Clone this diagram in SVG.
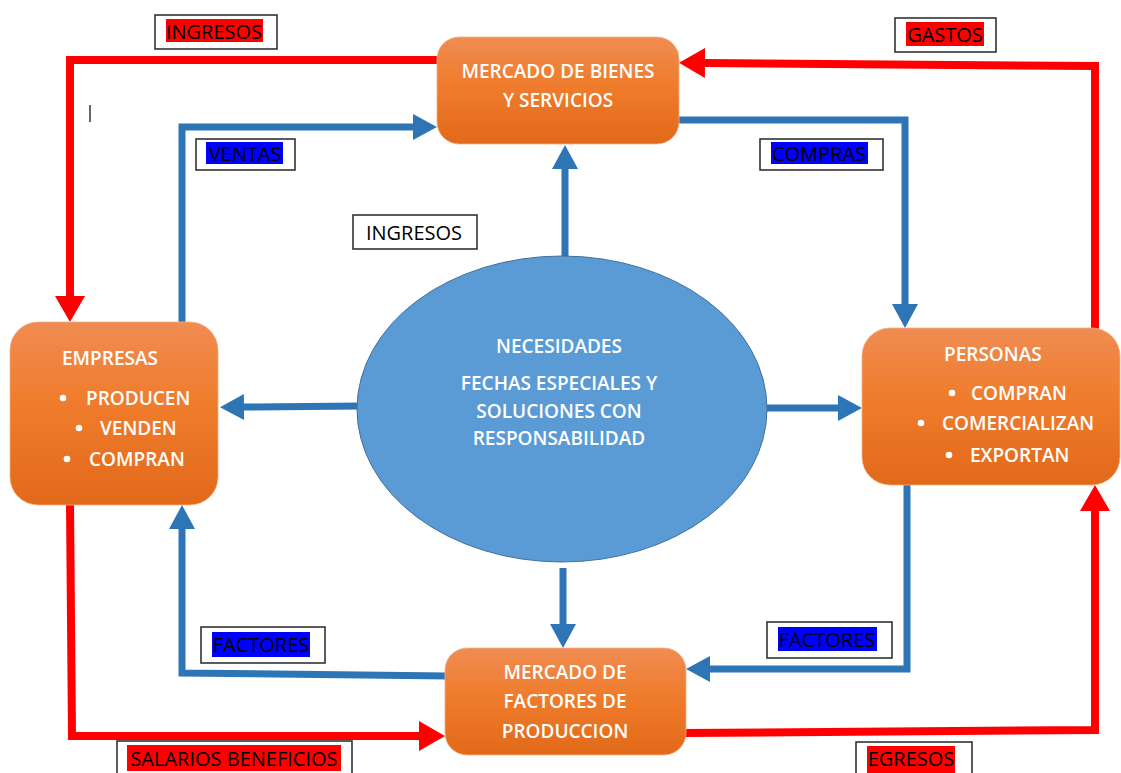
<svg xmlns="http://www.w3.org/2000/svg" width="1121" height="773" viewBox="0 0 1121 773">
<style>
.box{stroke:#F4B183;stroke-width:0.8}
.nt{font-family:"Open Sans","Liberation Sans",sans-serif;font-size:19px;font-weight:600;fill:#ffffff;text-anchor:middle}
.bl{font-family:"Open Sans","Liberation Sans",sans-serif;font-size:19px;font-weight:600;fill:#ffffff}
.lt{font-family:"Open Sans","Liberation Sans",sans-serif;font-size:20px;fill:#000000;text-anchor:middle}
.lb{fill:#ffffff;stroke:#333333;stroke-width:1.6}
.hr{fill:#FF0000}
.hb{fill:#0000FF}
.cb{fill:none;stroke:#2E75B6;stroke-width:7;stroke-linejoin:miter;marker-end:url(#ab)}
.cr{fill:none;stroke:#FF0000;stroke-width:8;stroke-linejoin:miter;marker-end:url(#ar)}
</style>
<defs>
<linearGradient id="og" x1="0" y1="0" x2="0" y2="1">
<stop offset="0" stop-color="#F08C52"/>
<stop offset="0.45" stop-color="#EF7C2C"/>
<stop offset="1" stop-color="#E2691A"/>
</linearGradient>
<marker id="ab" markerUnits="userSpaceOnUse" markerWidth="24" markerHeight="26" refX="0" refY="13" orient="auto">
<path d="M0,0 L24,13 L0,26 z" fill="#2E75B6"/>
</marker>
<marker id="ar" markerUnits="userSpaceOnUse" markerWidth="26" markerHeight="30" refX="0" refY="15" orient="auto">
<path d="M0,0 L26,15 L0,30 z" fill="#FF0000"/>
</marker>
</defs>

<g id="connectors">
<path class="cr" d="M440,60 L70,60 L70,296"/>
<path class="cb" d="M182,324 L182,127 L413,127"/>
<path class="cb" d="M676,120 L905,120 L905,304"/>
<path class="cr" d="M1095,330 L1095,66 L705,63"/>
<path class="cb" d="M565,258 L565,169"/>
<path class="cb" d="M360,406 L244,407"/>
<path class="cb" d="M767,408 L838,408"/>
<path class="cb" d="M563,568 L563,624"/>
<path class="cb" d="M448,676 L182,673 L182,529"/>
<path class="cb" d="M907,483 L907,669 L710,669"/>
<path class="cr" d="M70,503 L72,736 L419,736"/>
<path class="cr" d="M683,733 L1095,730 L1095,511"/>
</g>

<g id="cursor">
<line x1="90" y1="105" x2="90" y2="122" stroke="#333333" stroke-width="1.5"/>
</g>

<g id="node-mercado-bienes">
<rect class="box" x="437" y="37" width="242" height="107" rx="22" fill="url(#og)"/>
<text class="nt" x="558" y="78">MERCADO DE BIENES</text>
<text class="nt" x="558" y="107">Y SERVICIOS</text>
</g>

<g id="node-empresas">
<rect class="box" x="10" y="322" width="208" height="183" rx="28" fill="url(#og)"/>
<text class="bl" x="62" y="365">EMPRESAS</text>
<circle cx="63" cy="398" r="3.3" fill="#ffffff"/>
<text class="bl" x="86" y="405">PRODUCEN</text>
<circle cx="79" cy="428" r="3.3" fill="#ffffff"/>
<text class="bl" x="100" y="435">VENDEN</text>
<circle cx="67" cy="459" r="3.3" fill="#ffffff"/>
<text class="bl" x="89" y="466">COMPRAN</text>
</g>

<g id="node-personas">
<rect class="box" x="862" y="328" width="258" height="157" rx="28" fill="url(#og)"/>
<text class="bl" x="944" y="361">PERSONAS</text>
<circle cx="952" cy="393" r="3.3" fill="#ffffff"/>
<text class="bl" x="971" y="400">COMPRAN</text>
<circle cx="921" cy="423" r="3.3" fill="#ffffff"/>
<text class="bl" x="942" y="430">COMERCIALIZAN</text>
<circle cx="949" cy="455" r="3.3" fill="#ffffff"/>
<text class="bl" x="970" y="462">EXPORTAN</text>
</g>

<g id="node-necesidades">
<ellipse cx="562" cy="409" rx="205" ry="153" fill="#5B9BD5" stroke="#41719C" stroke-width="1"/>
<text class="nt" x="559" y="353">NECESIDADES</text>
<text class="nt" x="559" y="390">FECHAS ESPECIALES Y</text>
<text class="nt" x="559" y="418">SOLUCIONES CON</text>
<text class="nt" x="559" y="445">RESPONSABILIDAD</text>
</g>

<g id="node-mercado-factores">
<rect class="box" x="445" y="648" width="241" height="107" rx="22" fill="url(#og)"/>
<text class="nt" x="565" y="679">MERCADO DE</text>
<text class="nt" x="565" y="708">FACTORES DE</text>
<text class="nt" x="565" y="738">PRODUCCION</text>
</g>

<g id="label-ingresos-top">
<rect class="lb" x="155" y="15" width="122" height="34"/>
<rect class="hr" x="166" y="19" width="97" height="23"/>
<text class="lt" x="214" y="39">INGRESOS</text>
</g>
<g id="label-gastos">
<rect class="lb" x="895" y="18" width="101" height="34"/>
<rect class="hr" x="906" y="22" width="78" height="24"/>
<text class="lt" x="945" y="42">GASTOS</text>
</g>
<g id="label-ventas">
<rect class="lb" x="196" y="139" width="99" height="31"/>
<rect class="hb" x="206" y="142" width="77" height="22"/>
<text class="lt" x="245" y="161">VENTAS</text>
</g>
<g id="label-compras">
<rect class="lb" x="760" y="139" width="123" height="31"/>
<rect class="hb" x="771" y="142" width="97" height="22"/>
<text class="lt" x="819" y="161">COMPRAS</text>
</g>
<g id="label-ingresos-mid">
<rect class="lb" x="353" y="215" width="124" height="34"/>
<text class="lt" x="414" y="240">INGRESOS</text>
</g>
<g id="label-factores-left">
<rect class="lb" x="201" y="627" width="124" height="36"/>
<rect class="hb" x="212" y="632" width="98" height="25"/>
<text class="lt" x="261" y="652">FACTORES</text>
</g>
<g id="label-factores-right">
<rect class="lb" x="767" y="622" width="125" height="36"/>
<rect class="hb" x="778" y="627" width="99" height="24"/>
<text class="lt" x="827" y="647">FACTORES</text>
</g>
<g id="label-salarios">
<rect class="lb" x="117" y="741" width="235" height="40"/>
<rect class="hr" x="127" y="745" width="214" height="26"/>
<text class="lt" x="234" y="766">SALARIOS BENEFICIOS</text>
</g>
<g id="label-egresos">
<rect class="lb" x="856" y="742" width="116" height="40"/>
<rect class="hr" x="867" y="746" width="88" height="27"/>
<text class="lt" x="911" y="766">EGRESOS</text>
</g>
</svg>
